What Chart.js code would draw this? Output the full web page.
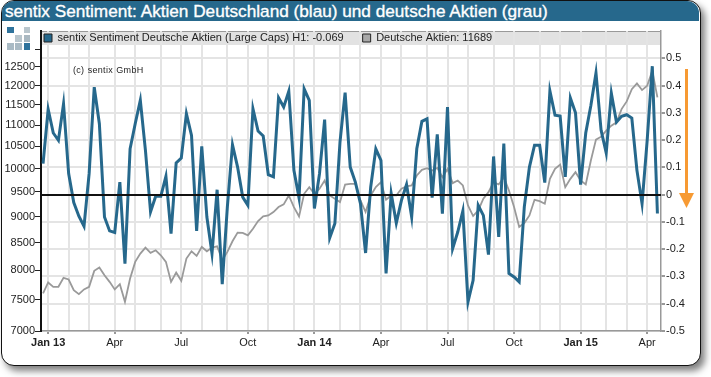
<!DOCTYPE html>
<html><head><meta charset="utf-8">
<script src="https://cdn.jsdelivr.net/npm/chart.js@4"></script>
<style>
html,body{margin:0;padding:0;background:#fff;width:711px;height:377px;overflow:hidden;font-family:"Liberation Sans",Arial,sans-serif}
#frame{position:absolute;left:1px;top:0;width:698px;height:364px;border:1.5px solid #111;border-radius:13px;background:#fff;box-shadow:4px 5px 7px rgba(0,0,0,.5)}
#bar{position:absolute;left:2px;top:1px;width:697px;height:20px;background:#26688c;border-radius:12px 12px 0 0;color:#fff;font-size:17.2px;-webkit-text-stroke:.35px #fff;line-height:20px;padding-left:3px;box-sizing:border-box;white-space:nowrap}
canvas{position:absolute;left:0;top:0}
#copy{position:absolute;left:73px;top:65px;font-size:9px;letter-spacing:.3px;color:#222;word-spacing:.5px}
.sq{position:absolute;width:6.5px;height:6.5px}
#arrow{position:absolute;left:0;top:0}
</style></head><body>
<div id="frame"></div>
<div id="bar">sentix Sentiment: Aktien Deutschland (blau) und deutsche Aktien (grau)</div>
<div style="position:absolute;left:0;top:0;width:711px;height:377px"><canvas id="c" width="711" height="377" style="width:711px;height:377px"></canvas></div>
<div id="copy">(c) sentix GmbH</div>
<div class="sq" style="left:7px;top:26.5px;background:#2f739c"></div>
<div class="sq" style="left:23.5px;top:26.5px;background:#b9c6cd"></div>
<div class="sq" style="left:15px;top:35px;background:#b9c6cd"></div>
<div class="sq" style="left:23.5px;top:35px;background:#a9b8c1"></div>
<div class="sq" style="left:7px;top:43px;background:#a9bac4"></div>
<div class="sq" style="left:15px;top:43px;background:#a9bac4"></div>
<div class="sq" style="left:23.5px;top:43px;background:#2f739c"></div>
<svg id="arrow" width="711" height="377"><rect x="685" y="69" width="3" height="125" fill="#f79a33"/><polygon points="679,193 694,193 686.5,208" fill="#f79a33"/></svg>
<script>
const sentimentName = "sentix Sentiment Deutsche Aktien (Large Caps) H1: -0.069";
const aktienName = "Deutsche Aktien: 11689";
const sentiment = [0.114,0.313,0.226,0.199,0.333,0.077,-0.029,-0.079,-0.116,0.077,0.394,0.260,-0.082,-0.133,-0.139,0.046,-0.253,0.168,0.260,0.346,0.162,-0.063,-0.006,-0.006,0.067,-0.143,0.116,0.134,0.297,0.217,-0.133,0.177,-0.082,-0.216,0.018,-0.328,-0.045,0.183,0.101,-0.009,-0.039,
0.315,0.233,0.215,0.073,0.065,0.355,0.321,0.379,0.089,-0.012,0.388,0.346,-0.051,0.077,0.275,-0.158,-0.106,0.193,0.374,0.101,0.046,-0.033,-0.214,0.028,0.168,0.126,-0.289,0.004,-0.104,-0.021,0.037,-0.082,0.168,0.269,0.278,-0.011,0.221,-0.070,0.321,
-0.198,-0.137,-0.060,-0.393,-0.314,-0.039,-0.076,-0.220,0.140,-0.155,0.187,-0.289,-0.302,-0.320,-0.045,0.101,0.181,0.181,0.044,0.380,0.291,0.288,0.065,0.354,0.300,0.037,0.226,0.327,0.446,0.236,0.153,0.372,0.266,0.287,0.293,0.281,0.089,-0.033,0.199,0.471,-0.069];
const aktien = [7601,7787,7713,7713,7867,7838,7657,7590,7669,7713,7988,8046,7912,7798,7669,7758,7464,7855,8147,8296,8406,8309,8357,8266,8147,7798,7959,7815,8206,8339,8254,8418,8339,8406,8431,8177,8327,8524,8687,8681,8637,
8763,8911,9003,9022,9089,9189,9243,9426,9189,9003,9460,9600,9460,9565,9741,9426,9358,9290,9656,9670,9670,9324,9089,9426,9600,9705,9337,9426,9426,9565,9614,9635,9848,9971,10007,9956,10014,9812,9992,
9684,9741,9635,9222,9010,9122,9358,9495,9705,9656,9812,9530,9189,8795,8872,9022,9337,9310,9256,9776,9992,10088,9600,9776,9920,9741,9656,10177,10655,10725,10867,10987,11067,11394,11587,11904,12053,11880,11992,12392,11689];
const monthTickIndex = [1,5,9,14,18,23,27,31,36,40,44,49,53,58,62,66,70,75,79,83,88,92,97,101,105,110,114,118];
const monthTickLabels = ["Jan 13","","","Apr","","","Jul","","","Oct","","","Jan 14","","","Apr","","","Jul","","","Oct","","","Jan 15","","","Apr"];
const leftTicks = [7000,7500,8000,8500,9000,9500,10000,10500,11000,11500,12000,12500,13000];
const hiddenLeftLabel = 13000;
const zeroLevel = 0;
const isBold = l => /\d/.test(l);
const bandPlugin = {id:'band',
 beforeDraw(ch){const a=ch.chartArea,c=ch.ctx;c.save();c.fillStyle='#e2e2e2';c.fillRect(a.left,a.top,a.right-a.left,14);c.strokeStyle='#999';c.lineWidth=1;c.beginPath();c.moveTo(a.left,a.top+.5);c.lineTo(a.right,a.top+.5);c.stroke();c.restore();},
 afterDatasetsDraw(ch){const a=ch.chartArea,c=ch.ctx,y=Math.round(ch.scales.yR.getPixelForValue(zeroLevel));c.save();c.strokeStyle='#111';c.lineWidth=2;c.beginPath();c.moveTo(a.left,y);c.lineTo(a.right,y);c.stroke();c.restore();}
};
const legendOverlay = {id:'legendOverlay',
 beforeLayout(ch){const l=ch.legend; if(l&&!l._o){l._o=1;const f=l.fit;l.fit=function(){f.call(this);this.height=0;};}},
 afterLayout(ch){const l=ch.legend,a=ch.chartArea;l.left=a.left+3-19;l.right=a.right;l.width=l.right-l.left;l.top=a.top+1.5-19;l.height=40;l.bottom=l.top+l.height;}
};
new Chart(document.getElementById('c'),{
 type:'line',
 data:{datasets:[
  {label:sentimentName,data:sentiment.map((v,i)=>({x:i,y:v})),yAxisID:'yR',borderColor:'#26688c',backgroundColor:'#26688c',borderWidth:3,pointRadius:0,tension:0,order:1,borderJoinStyle:'miter'},
  {label:aktienName,data:aktien.map((v,i)=>({x:i,y:v})),yAxisID:'yL',borderColor:'#9a9a9a',backgroundColor:'#a8a8a8',borderWidth:1.8,pointRadius:0,tension:0,order:2}
 ]},
 plugins:[bandPlugin,legendOverlay],
 options:{responsive:false,animation:false,
  layout:{padding:{top:31,left:0,right:0,bottom:0}},
  plugins:{tooltip:{enabled:false},
   legend:{display:true,position:'top',align:'start',fullSize:false,
    labels:{boxWidth:8,boxHeight:8,padding:19,color:'#222',font:{family:'"Liberation Sans",Arial,sans-serif',size:11},
     generateLabels(ch){return Chart.defaults.plugins.legend.labels.generateLabels(ch).map(o=>({...o,fillStyle:ch.data.datasets[o.datasetIndex].backgroundColor,strokeStyle:'#222',lineWidth:1}));}}}},
  scales:{
   x:{type:'linear',min:-0.4,max:120.7,
    afterBuildTicks(s){s.ticks=monthTickIndex.map(v=>({value:v}));},
    afterFit(s){s.height=46;},
    border:{color:'#999',width:1.5},
    grid:{color:'#e4e4e4',lineWidth:2,tickLength:3,drawTicks:true,
      tickColor:c=>monthTickLabels[c.index]?'#333':'rgba(0,0,0,0)',tickWidth:1},
    ticks:{autoSkip:false,maxRotation:0,padding:2,color:'#222',
     font:c=>({family:'"Liberation Sans",Arial,sans-serif',size:11,weight:isBold(monthTickLabels[c.index]||'')?'bold':'normal'}),
     callback:(v,i)=>monthTickLabels[i]}},
   yL:{type:'logarithmic',position:'left',min:7000,max:13525,
    afterBuildTicks(s){s.ticks=leftTicks.map(v=>({value:v}));},
    afterFit(s){s.width=41;},
    border:{color:'#111',width:2},
    grid:{drawOnChartArea:false,tickLength:6,color:'#222'},
    ticks:{autoSkip:false,padding:0,color:'#222',font:{family:'"Liberation Sans",Arial,sans-serif',size:11},
     callback:v=>v===hiddenLeftLabel?'':String(v)}},
   yR:{type:'linear',position:'right',min:-0.5,max:0.6,
    afterBuildTicks(s){s.ticks=s.ticks.filter(t=>t.value<0.55);},
    afterFit(s){s.width=50;},
    border:{color:'#999',width:1.5},
    grid:{color:'#e4e4e4',lineWidth:2,tickLength:4,tickColor:'#333',tickWidth:1},
    ticks:{stepSize:0.1,padding:1,color:'#222',font:{family:'"Liberation Sans",Arial,sans-serif',size:11},
     callback:v=>{const r=Math.round(v*10)/10;return r===0?'0':r.toFixed(1);}}}
  }
 }
});
</script>
</body></html>
